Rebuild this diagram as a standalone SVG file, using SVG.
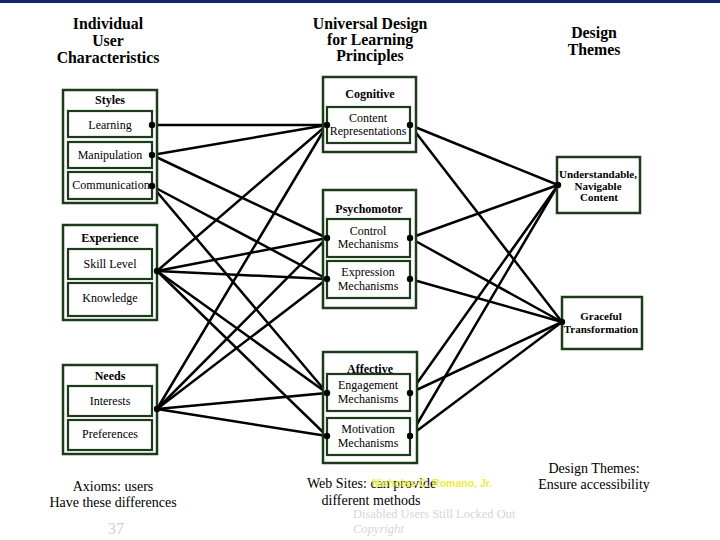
<svg xmlns="http://www.w3.org/2000/svg" width="720" height="540" viewBox="0 0 720 540">
<style>
.ob{fill:#fff;stroke:#1b3b1b;stroke-width:2.5}
.ib{fill:#fff;stroke:#1b3b1b;stroke-width:2.2}
.rb{fill:#fff;stroke:#1b3b1b;stroke-width:2.5}
text{font-family:"Liberation Serif","Times New Roman",serif;fill:#000;text-anchor:middle}
.h{font-size:15.8px;font-weight:bold}
.bh{font-size:12px;font-weight:bold}
.t{font-size:12px}
.rt{font-size:11px;font-weight:bold}
.ft{font-size:14px}
.wm{fill:#d6d6d6;font-size:12.5px;text-anchor:start}
.c line{stroke:#000;stroke-width:2.5;stroke-linecap:round}
.d circle{fill:#000}
</style>
<rect x="0" y="0" width="720" height="540" fill="#fff"/>
<rect x="0" y="0" width="720" height="3" fill="#13266b"/>

<g id="headers">
<text class="h" x="108" y="29">Individual</text>
<text class="h" x="108" y="46">User</text>
<text class="h" x="108" y="63">Characteristics</text>
<text class="h" x="370" y="29">Universal Design</text>
<text class="h" x="370" y="45">for Learning</text>
<text class="h" x="370" y="61">Principles</text>
<text class="h" x="594" y="38">Design</text>
<text class="h" x="594" y="55">Themes</text>
</g>

<g id="connectors" class="c">
<line x1="152" y1="125" x2="327" y2="125"/>
<line x1="152" y1="155" x2="327" y2="125"/>
<line x1="152" y1="155" x2="327" y2="238"/>
<line x1="152" y1="186" x2="327" y2="279"/>
<line x1="152" y1="186" x2="327" y2="393"/>
<line x1="157" y1="271" x2="327" y2="125"/>
<line x1="157" y1="271" x2="327" y2="238"/>
<line x1="157" y1="271" x2="327" y2="279"/>
<line x1="157" y1="271" x2="327" y2="393"/>
<line x1="157" y1="271" x2="327" y2="436"/>
<line x1="157" y1="409" x2="327" y2="125"/>
<line x1="157" y1="409" x2="327" y2="238"/>
<line x1="157" y1="409" x2="327" y2="279"/>
<line x1="157" y1="409" x2="327" y2="393"/>
<line x1="157" y1="409" x2="327" y2="436"/>
<line x1="410" y1="125" x2="558" y2="185"/>
<line x1="410" y1="125" x2="562" y2="322"/>
<line x1="410" y1="238" x2="558" y2="185"/>
<line x1="410" y1="238" x2="562" y2="322"/>
<line x1="410" y1="279" x2="562" y2="322"/>
<line x1="410" y1="393" x2="558" y2="185"/>
<line x1="410" y1="393" x2="562" y2="322"/>
<line x1="410" y1="436" x2="558" y2="185"/>
<line x1="410" y1="436" x2="562" y2="322"/>
</g>

<g id="styles">
<rect class="ob" x="63" y="90" width="94" height="113"/>
<text class="bh" x="110" y="104">Styles</text>
<rect class="ib" x="68" y="111" width="84" height="26"/>
<text class="t" x="110" y="129">Learning</text>
<rect class="ib" x="68" y="142" width="84" height="26"/>
<text class="t" x="110" y="159">Manipulation</text>
<rect class="ib" x="68" y="172" width="84" height="27"/>
<text class="t" x="111" y="189">Communication</text>
</g>

<g id="experience">
<rect class="ob" x="63" y="225" width="94" height="95"/>
<text class="bh" x="110" y="242">Experience</text>
<rect class="ib" x="68" y="249" width="84" height="30"/>
<text class="t" x="110" y="268">Skill Level</text>
<rect class="ib" x="68" y="283" width="84" height="33"/>
<text class="t" x="110" y="302">Knowledge</text>
</g>

<g id="needs">
<rect class="ob" x="63" y="365" width="94" height="89"/>
<text class="bh" x="110" y="380">Needs</text>
<rect class="ib" x="68" y="386" width="84" height="30"/>
<text class="t" x="110" y="405">Interests</text>
<rect class="ib" x="68" y="420" width="84" height="30"/>
<text class="t" x="110" y="438">Preferences</text>
</g>

<g id="cognitive">
<rect class="ob" x="323" y="77" width="93" height="75"/>
<text class="bh" x="370" y="98">Cognitive</text>
<rect class="ib" x="327" y="107" width="83" height="36"/>
<text class="t" x="368" y="122">Content</text>
<text class="t" x="368" y="135">Representations</text>
</g>

<g id="psychomotor">
<rect class="ob" x="323" y="190" width="93" height="118"/>
<text class="bh" x="369" y="213">Psychomotor</text>
<rect class="ib" x="327" y="219" width="83" height="38"/>
<text class="t" x="368" y="235">Control</text>
<text class="t" x="368" y="248">Mechanisms</text>
<rect class="ib" x="327" y="261" width="83" height="37"/>
<text class="t" x="368" y="276">Expression</text>
<text class="t" x="368" y="290">Mechanisms</text>
</g>

<g id="affective">
<rect class="ob" x="323" y="352" width="94" height="111"/>
<text class="bh" x="370" y="373">Affective</text>
<rect class="ib" x="327" y="374" width="83" height="37"/>
<text class="t" x="368" y="389">Engagement</text>
<text class="t" x="368" y="403">Mechanisms</text>
<rect class="ib" x="327" y="418" width="83" height="37"/>
<text class="t" x="368" y="433">Motivation</text>
<text class="t" x="368" y="447">Mechanisms</text>
</g>

<g id="understandable">
<rect class="rb" x="557" y="157" width="83" height="56"/>
<text class="rt" x="598" y="178">Understandable,</text>
<text class="rt" x="598" y="190">Navigable</text>
<text class="rt" x="599" y="201">Content</text>
</g>

<g id="graceful">
<rect class="rb" x="562" y="297" width="80" height="52"/>
<text class="rt" x="601" y="320">Graceful</text>
<text class="rt" x="601" y="333">Transformation</text>
</g>

<g id="dots" class="d">
<circle cx="152" cy="125" r="3.2"/>
<circle cx="152" cy="155" r="3.2"/>
<circle cx="152" cy="186" r="3.2"/>
<circle cx="157" cy="271" r="3.2"/>
<circle cx="157" cy="409" r="3.2"/>
<circle cx="327" cy="125" r="3.2"/>
<circle cx="327" cy="238" r="3.2"/>
<circle cx="327" cy="279" r="3.2"/>
<circle cx="327" cy="393" r="3.2"/>
<circle cx="327" cy="436" r="3.2"/>
<circle cx="410" cy="125" r="3.2"/>
<circle cx="410" cy="238" r="3.2"/>
<circle cx="410" cy="279" r="3.2"/>
<circle cx="410" cy="393" r="3.2"/>
<circle cx="410" cy="436" r="3.2"/>
<circle cx="558" cy="185" r="3.2"/>
<circle cx="562" cy="322" r="3.2"/>
</g>

<g id="footer">
<text class="ft" x="113" y="491">Axioms: users</text>
<text class="ft" x="113" y="507">Have these differences</text>
<text x="116" y="534" style="font-size:16px;fill:#d0d0d0">37</text>
<text class="wm" x="353" y="518">Disabled Users Still Locked Out</text>
<text class="wm" x="353" y="533" style="font-style:italic">Copyright</text>
<text class="ft" x="307" y="488" style="text-anchor:start">Web Sites: can provide</text>
<text x="372" y="487" style="text-anchor:start;font-family:'Liberation Sans',Arial,sans-serif;font-size:10.5px;font-weight:bold;fill:#eded3c">Nicholas C. Romano, Jr.</text>
<text class="ft" x="371" y="505">different methods</text>
<text class="ft" x="594" y="473">Design Themes:</text>
<text class="ft" x="594" y="489">Ensure accessibility</text>
</g>
</svg>
